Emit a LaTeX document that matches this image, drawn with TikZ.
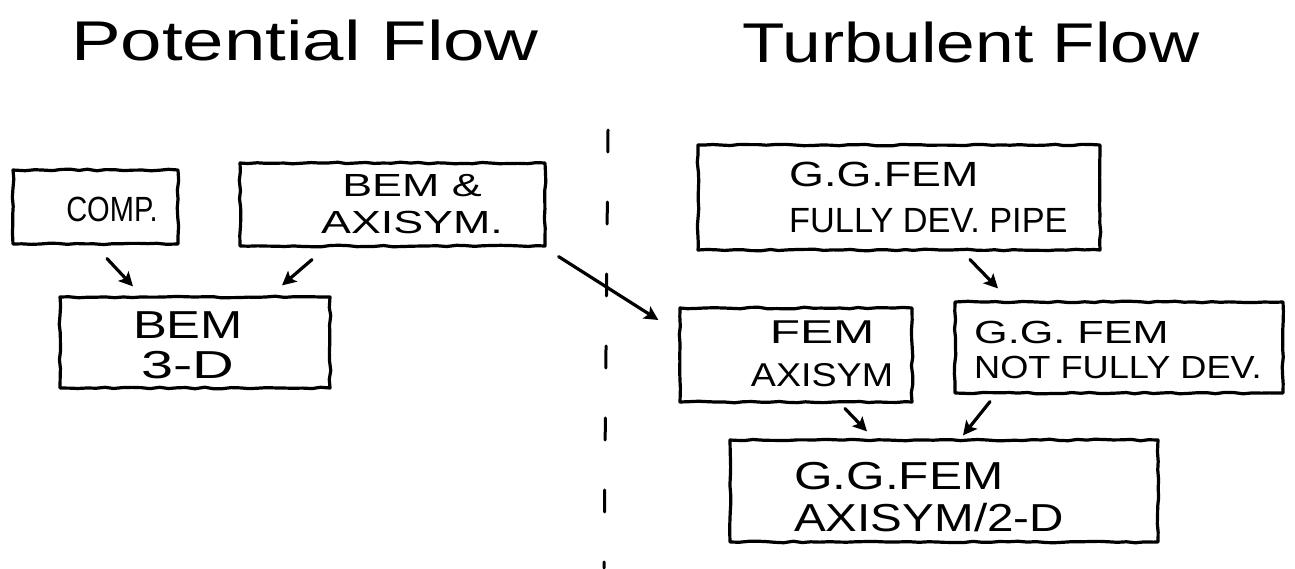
\documentclass[tikz,border=0pt]{standalone}
\usepackage{fontspec}
\setmainfont{Liberation Sans}
\usetikzlibrary{arrows.meta,decorations.pathmorphing}
% stretch one line of lettering horizontally
\newcommand\wideln[2]{\scalebox{#1}[1]{#2}}

\begin{document}
\begin{tikzpicture}[x=1pt,y=-1pt,
  ink/.style={line width=3.2pt, line cap=round, line join=round},
  box/.style={ink, draw, rectangle, inner sep=0pt,
    decorate, decoration={random steps, segment length=9pt, amplitude=0.8pt}},
  txt/.style={inner sep=0pt, text=black},
  arrowline/.style={ink, -{Stealth[length=14pt,width=14pt,inset=3pt]}},
  divider/.style={line width=3pt, line cap=round, dash pattern=on 22pt off 50pt}
]
\pgfmathsetseed{7}
\fill[white] (0,0) rectangle (1295,568);
\useasboundingbox (0,0) rectangle (1295,568);

% headings
\node[txt, anchor=base, font=\fontsize{56pt}{60pt}\selectfont] (potential) at (305,60) {\wideln{1.33}{Potential Flow}};
\node[txt, anchor=base, font=\fontsize{56pt}{60pt}\selectfont] (turbulent) at (971,62) {\wideln{1.24}{Turbulent Flow}};

% dividing line between the two halves
\coordinate (div-top) at (608,130);
\coordinate (div-bot) at (604,568);
\draw[divider] (div-top) -- (div-bot);

% potential flow side
\node[box, minimum width=165pt, minimum height=74pt] (comp) at (95.5,207) {};
\node[txt, font=\fontsize{35pt}{40pt}\selectfont] (comp-t) at (112,209.5) {\wideln{0.83}{COMP.}};

\node[box, minimum width=305pt, minimum height=83pt] (bemaxi) at (392.5,204.5) {};
\node[txt, align=center, font=\fontsize{32pt}{37pt}\selectfont] (bemaxi-t) at (412,204)
  {\wideln{1.4}{BEM \&}\\\wideln{1.4}{AXISYM.}};

\node[box, minimum width=270pt, minimum height=91pt] (bem3d) at (195,342.5) {};
\node[txt, align=center, font=\fontsize{39pt}{40pt}\selectfont] (bem3d-t) at (188,345)
  {\wideln{1.3}{BEM}\\\wideln{1.48}{3-D}};

% turbulent flow side
\node[box, minimum width=402pt, minimum height=105pt] (pipe) at (899,197.5) {};
\node[txt, anchor=west, align=left, font=\fontsize{35pt}{45.5pt}\selectfont] (pipe-t) at (789,197.5)
  {\wideln{1.28}{G.G.FEM}\\\wideln{0.98}{FULLY DEV. PIPE}};

\node[box, minimum width=232pt, minimum height=94pt] (femaxi) at (796,355) {};
\node[txt, align=center, font=\fontsize{33pt}{43pt}\selectfont] (femaxi-t) at (822,353.5)
  {\wideln{1.5}{FEM}\\\wideln{1.14}{AXISYM}};

\node[box, minimum width=328pt, minimum height=91pt] (nfd) at (1119,347.5) {};
\node[txt, anchor=west, align=left, font=\fontsize{32pt}{35pt}\selectfont] (nfd-t) at (974,350)
  {\wideln{1.35}{G.G. FEM}\\\wideln{1.13}{NOT FULLY DEV.}};

\node[box, minimum width=428pt, minimum height=102pt] (ggaxi) at (944,491) {};
\node[txt, anchor=west, align=left, font=\fontsize{39pt}{42pt}\selectfont] (ggaxi-t) at (794,497.5)
  {\wideln{1.27}{G.G.FEM}\\\wideln{1.22}{AXISYM/2-D}};

% connectors
\draw[arrowline] ([xshift=11.5pt,yshift=-13pt]comp.south) -- ([xshift=-62pt,yshift=9pt]bem3d.north);
\draw[arrowline] ([xshift=-80.5pt,yshift=-12pt]bemaxi.south) -- ([xshift=87pt,yshift=10pt]bem3d.north);
\draw[arrowline] ([xshift=12pt,yshift=-9pt]bemaxi.south east) -- ([xshift=-20pt,yshift=35pt]femaxi.west);
\draw[arrowline] ([xshift=71pt,yshift=-8pt]pipe.south) -- ([xshift=-121pt,yshift=12pt]nfd.north);
\draw[arrowline] ([xshift=49pt,yshift=-5pt]femaxi.south) -- ([xshift=-77pt,yshift=7pt]ggaxi.north);
\draw[arrowline] ([xshift=-129pt,yshift=-7pt]nfd.south) -- ([xshift=19pt,yshift=3pt]ggaxi.north);
\end{tikzpicture}
\end{document}
